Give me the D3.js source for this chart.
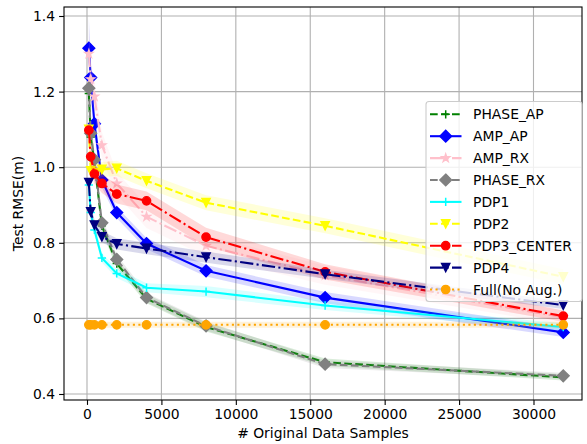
<!DOCTYPE html>
<html><head><meta charset="utf-8">
<script src="https://cdn.jsdelivr.net/npm/d3@7"></script>
<style>body{margin:0;background:#fff} svg text{font-family:"DejaVu Sans",sans-serif;fill:#000}</style>
</head><body><svg id="c" width="587" height="444"></svg>
<script>
const samples=[125,250,500,1000,2000,4000,8000,16000,32000];
const seriesNames=["PHASE_AP","AMP_AP","AMP_RX","PHASE_RX","PDP1","PDP2","PDP3_CENTER","PDP4","Full(No Aug.)"];
const phaseAP=[1.195,1.08,1.015,0.845,0.745,0.652,0.577,0.484,0.444];
const ampAP=[1.315,1.237,1.115,0.966,0.880,0.798,0.726,0.655,0.563];
const ampRX=[1.300,1.233,1.187,1.058,0.957,0.869,0.792,0.714,0.603];
const phaseRX=[1.209,1.09,1.02,0.853,0.756,0.655,0.580,0.479,0.448];
const pdp1=[0.953,0.88,0.834,0.760,0.719,0.681,0.671,0.634,0.577];
const pdp2=[1.10,0.99,0.985,0.994,0.997,0.964,0.906,0.845,0.710];
const pdp3=[1.098,1.028,0.982,0.957,0.929,0.911,0.815,0.723,0.606];
const pdp4=[0.959,0.882,0.847,0.816,0.797,0.785,0.762,0.717,0.635];
const fullNoAug=[0.583,0.583,0.583,0.583,0.583,0.583,0.583,0.583,0.583];
const phaseAPStd=[0.03,0.03,0.02,0.015,0.012,0.012,0.012,0.01,0.008];
const ampAPStd=[0.08,0.05,0.03,0.02,0.015,0.015,0.015,0.015,0.012];
const ampRXStd=[0.07,0.05,0.04,0.035,0.03,0.03,0.028,0.025,0.02];
const phaseRXStd=[0.03,0.03,0.02,0.015,0.012,0.012,0.012,0.01,0.008];
const pdp1Std=[0.02,0.02,0.015,0.012,0.012,0.012,0.015,0.012,0.01];
const pdp2Std=[0.02,0.02,0.02,0.02,0.02,0.02,0.02,0.02,0.02];
const pdp3Std=[0.03,0.03,0.025,0.025,0.025,0.025,0.025,0.02,0.015];
const pdp4Std=[0.02,0.02,0.015,0.015,0.015,0.015,0.015,0.012,0.01];
const fullStd=[0.008,0.008,0.008,0.008,0.008,0.008,0.008,0.008,0.008];
const xTicks=[0,5000,10000,15000,20000,25000,30000];
const yTicks=[0.4,0.6,0.8,1.0,1.2,1.4];

const values=[phaseAP,ampAP,ampRX,phaseRX,pdp1,pdp2,pdp3,pdp4,fullNoAug];
const stds=[phaseAPStd,ampAPStd,ampRXStd,phaseRXStd,pdp1Std,pdp2Std,pdp3Std,pdp4Std,fullStd];
const colors=["#008000","#0000ff","#ffc0cb","#808080","#00ffff","#ffff00","#ff0000","#000080","#ffa500"];
const markers=["plus","diamond","star","diamond","plus","tridown","circle","tridown","circle"];
const dashes=["dash","solid","dashdot","dash","solid","dash","dashdot","dashdot","dot"];
const dashMap={solid:null,dash:"7.7,3.3",dashdot:"13.3,3.3,2.1,3.3",dot:"2.1,3.4"};

const L=64,R=582,T=7,B=400;
const x=d3.scaleLinear().domain([-1545,33259]).range([L,R]);
const y=d3.scaleLinear().domain([0.3841,1.4238]).range([B,T]);
const svg=d3.select("#c");
const ms=8.33;
function markerPath(m){
  const h=ms/2;
  if(m==="plus") return `M${-h},0H${h}M0,${-h}V${h}`;
  if(m==="diamond"){const d=ms/Math.SQRT2;return `M0,${-d}L${d},0L0,${d}L${-d},0Z`;}
  if(m==="tridown") return `M0,${h}L${-h},${-h}L${h},${-h}Z`;
  if(m==="circle") return `M${h},0A${h},${h} 0 1,1 ${-h},0A${h},${h} 0 1,1 ${h},0Z`;
  if(m==="star"){const ro=h,ri=h*0.381966;let p="";for(let i=0;i<10;i++){const r=i%2?ri:ro;const a=-Math.PI/2+i*Math.PI/5;p+=(i?"L":"M")+(r*Math.cos(a)).toFixed(2)+","+(r*Math.sin(a)).toFixed(2);}return p+"Z";}
}
const clip=svg.append("defs").append("clipPath").attr("id","clip").append("rect").attr("x",L).attr("y",T).attr("width",R-L).attr("height",B-T);

// grid
const g=svg.append("g");
g.selectAll(".gx").data(xTicks).join("line").attr("x1",d=>x(d)).attr("x2",d=>x(d)).attr("y1",T).attr("y2",B).attr("stroke","#b0b0b0").attr("stroke-width",1.1);
g.selectAll(".gy").data(yTicks).join("line").attr("y1",d=>y(d)).attr("y2",d=>y(d)).attr("x1",L).attr("x2",R).attr("stroke","#b0b0b0").attr("stroke-width",1.1);

const plot=svg.append("g").attr("clip-path","url(#clip)");
const line=d3.line().x((d,i)=>x(samples[i])).y(d=>y(d));
values.forEach((vals,k)=>{
  const area=d3.area().x((d,i)=>x(samples[i])).y0((d,i)=>y(d-stds[k][i])).y1((d,i)=>y(d+stds[k][i]));
  plot.append("path").attr("d",area(vals)).attr("fill",colors[k]).attr("fill-opacity",0.15);
  plot.append("path").attr("d",line(vals)).attr("fill","none").attr("stroke",colors[k]).attr("stroke-width",2.08).attr("stroke-dasharray",dashMap[dashes[k]]);
  plot.selectAll(null).data(vals).join("path").attr("transform",(d,i)=>`translate(${x(samples[i])},${y(d)})`)
    .attr("d",markerPath(markers[k])).attr("fill",markers[k]==="plus"?"none":colors[k]).attr("stroke",colors[k]).attr("stroke-width",markers[k]==="plus"?1.5:1.39);
});

// axes
const xa=svg.append("g").attr("transform",`translate(0,${B})`).call(d3.axisBottom(x).tickValues(xTicks).tickFormat(d3.format("d")).tickSizeOuter(0).tickSize(4.9).tickPadding(4));
const ya=svg.append("g").attr("transform",`translate(${L},0)`).call(d3.axisLeft(y).tickValues(yTicks).tickFormat(d3.format(".1f")).tickSizeOuter(0).tickSize(4.9).tickPadding(4));
[xa,ya].forEach(a=>{a.select(".domain").remove();a.selectAll("line").attr("stroke","#000").attr("stroke-width",1.1);a.selectAll("text").attr("font-size","13.9px").attr("font-family","DejaVu Sans");});
svg.append("rect").attr("x",L).attr("y",T).attr("width",R-L).attr("height",B-T).attr("fill","none").attr("stroke","#000").attr("stroke-width",1.1);

svg.append("text").attr("x",(L+R)/2).attr("y",438).attr("text-anchor","middle").attr("font-size","13.9px").text("# Original Data Samples");
svg.append("text").attr("transform",`translate(23,${(T+B)/2}) rotate(-90)`).attr("text-anchor","middle").attr("font-size","13.9px").text("Test RMSE(m)");

// legend
const lg=svg.append("g");
lg.append("rect").attr("x",426).attr("y",101.5).attr("width",156).attr("height",200).attr("rx",3).attr("fill","#fff").attr("fill-opacity",0.8).attr("stroke","#cccccc").attr("stroke-width",1.1);
seriesNames.forEach((n,k)=>{
  const cy=114.3+k*21.9;
  lg.append("line").attr("x1",430).attr("x2",461.5).attr("y1",cy).attr("y2",cy).attr("stroke",colors[k]).attr("stroke-width",2.08).attr("stroke-dasharray",dashMap[dashes[k]]);
  lg.append("path").attr("transform",`translate(445.7,${cy})`).attr("d",markerPath(markers[k])).attr("fill",markers[k]==="plus"?"none":colors[k]).attr("stroke",colors[k]).attr("stroke-width",markers[k]==="plus"?1.5:1.39);
  lg.append("text").attr("x",473).attr("y",cy+5).attr("font-size","13.9px").text(n);
});
</script></body></html>
